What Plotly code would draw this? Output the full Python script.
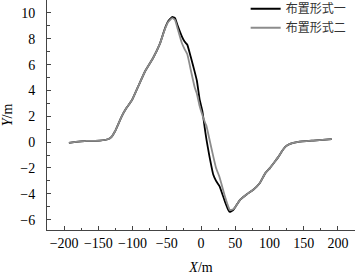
import plotly.graph_objects as go

x_vals = [-193, -167, -148, -136, -130, -126, -122, -116, -109, -101, -92, -82, -70, -60, -53, -48, -42, -38, -34, -28, -24, -20, -15, -9, -6, -2, 2, 6, 8, 12, 18, 22, 27, 35, 40, 42, 47, 51, 57, 67, 76, 86, 94, 101, 108, 113, 118, 123, 130, 142, 164, 191]

y_layout1 = [-0.05, 0.09, 0.12, 0.22, 0.45, 0.8, 1.26, 1.98, 2.64, 3.24, 4.29, 5.45, 6.51, 7.62, 8.75, 9.35, 9.69, 9.6, 9.0, 8.19, 7.78, 7.54, 6.6, 5.4, 4.75, 3.3, 2.4, 0.9, 0.2, -1.0, -2.53, -3.0, -3.4, -4.6, -5.25, -5.4, -5.25, -4.95, -4.47, -4.03, -3.7, -3.16, -2.4, -1.99, -1.5, -1.14, -0.73, -0.36, -0.13, 0.02, 0.12, 0.23]

y_layout2 = [-0.05, 0.09, 0.12, 0.22, 0.45, 0.8, 1.26, 1.98, 2.64, 3.24, 4.29, 5.45, 6.51, 7.62, 8.71, 9.3, 9.6, 9.45, 8.75, 7.67, 7.2, 6.8, 5.6, 4.2, 3.75, 2.8, 2.1, 1.5, 1.25, 0.3, -1.12, -2.0, -2.7, -4.2, -5.0, -5.25, -5.2, -4.95, -4.47, -4.03, -3.7, -3.16, -2.4, -1.99, -1.5, -1.14, -0.73, -0.36, -0.13, 0.02, 0.12, 0.23]

names = ["布置形式一", "布置形式二"]
x_ticks = [-200, -150, -100, -50, 0, 50, 100, 150, 200]
y_ticks = [-6, -4, -2, 0, 2, 4, 6, 8, 10]

fig = go.Figure()
fig.add_trace(go.Scatter(x=x_vals, y=y_layout1, mode="lines", name=names[0],
                         line=dict(color="#000000", width=1.8, shape="spline", smoothing=0.4)))
fig.add_trace(go.Scatter(x=x_vals, y=y_layout2, mode="lines", name=names[1],
                         line=dict(color="#8c8c8c", width=1.8, shape="spline", smoothing=0.4)))

tickfont = dict(family="Liberation Serif", size=14, color="#000")
fig.update_layout(
    width=355, height=276,
    margin=dict(l=47, r=0, t=0, b=46, autoexpand=False),
    paper_bgcolor="white", plot_bgcolor="white",
    showlegend=True,
    legend=dict(x=0.645, y=1.025, xanchor="left", yanchor="top",
                font=dict(family="Noto Sans CJK SC", size=12, color="#333"),
                bgcolor="rgba(0,0,0,0)", tracegroupgap=0, itemwidth=30),
    xaxis=dict(range=[-225, 225], tickvals=x_ticks,
               ticktext=[("−" + str(-v)) if v < 0 else str(v) for v in x_ticks],
               ticks="inside", ticklen=4, tickcolor="#444",
               showline=True, linecolor="#444", linewidth=1,
               showgrid=False, zeroline=False, tickfont=tickfont,
               minor=dict(dtick=25, tick0=0, ticks="inside", ticklen=2.5, tickcolor="#444"),
               title=dict(text="<i>X</i>/m", font=tickfont, standoff=12)),
    yaxis=dict(range=[-6.8, 11], tickvals=y_ticks,
               ticktext=[("−" + str(-v)) if v < 0 else str(v) for v in y_ticks],
               ticks="inside", ticklen=4, tickcolor="#444", ticklabelstandoff=8,
               showline=True, linecolor="#444", linewidth=1,
               showgrid=False, zeroline=False, tickfont=tickfont,
               minor=dict(dtick=1, tick0=0, ticks="inside", ticklen=2.5, tickcolor="#444"),
               title=dict(text="<i>Y</i>/m", font=tickfont, standoff=6)),
)
fig.write_html("out.html")
